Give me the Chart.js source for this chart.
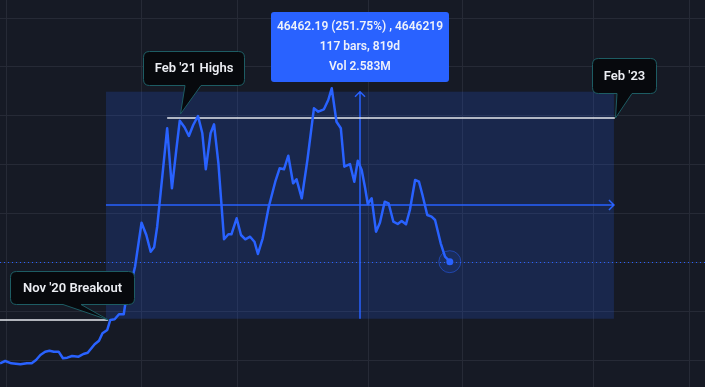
<!DOCTYPE html>
<html lang="en">
<head>
  <meta charset="utf-8" />
  <title>Weekly range</title>
  <script src="https://cdn.jsdelivr.net/npm/chart.js@4.4.0/dist/chart.umd.min.js"></script>
  <style>
    * { margin: 0; padding: 0; box-sizing: border-box; }
    body { background: #161a25; width: 705px; height: 387px; overflow: hidden; }
    .wrapper { position: relative; width: 705px; height: 387px; }
  </style>
</head>
<body>
  <div class="wrapper"><canvas id="chart"></canvas></div>
  <script>
    // week index of each close
    const weeks = [0, 1.2, 2.6, 4.7, 6.2, 7.3, 8.3, 9.3, 10.4, 11.4, 12.4, 13.5, 14.5, 15.5, 16.6, 18.1, 19.2, 20.2,
      21.8, 22.8, 23.6, 24.7, 25.4, 26.4, 27.4, 28.5, 29.0, 30.0, 31.1, 32.6, 33.7, 34.7, 35.5, 36.2, 37.3, 38.5,
      39.6, 40.6, 41.4, 42.5, 43.5, 44.5, 45.6, 46.6, 47.4, 48.5, 49.3, 50.3, 51.6, 52.6, 53.3, 54.5, 55.5, 56.5,
      57.6, 58.6, 59.4, 60.5, 61.9, 63.4, 64.4, 65.4, 66.4, 67.5, 68.3, 69.5, 70.8, 72.3, 73.3, 74.6, 75.6, 76.4,
      77.5, 78.5, 79.3, 80.6, 81.6, 82.4, 83.3, 84.1, 84.7, 85.6, 86.6, 87.5, 88.6, 89.5, 90.6, 91.6, 92.5, 93.5,
      94.4, 95.6, 96.5, 97.3, 98.4, 99.4, 100.2, 101.5, 102.5, 103.6];
    const closes = [9330, 9800, 9330, 9130, 9330, 9330, 10010, 11030, 11710, 11910, 11710, 11710, 10360, 10480, 10830, 10680, 11240, 11500,
      13220, 13960, 15470, 16150, 18200, 18340, 19360, 19360, 22290, 25010, 29100, 38110, 35590, 32170, 33080, 37290, 46850, 57430,
      45150, 52990, 58990, 57640, 55860, 58110, 59950, 56410, 49040, 56410, 58250, 50270, 34710, 35740, 35740, 39010, 35590, 34710,
      35240, 34220, 31700, 34920, 41380, 46500, 49240, 49040, 51820, 46170, 46990, 43100, 50940, 61520, 60830, 61320, 63220, 65620,
      58780, 57430, 49570, 50120, 46500, 50800, 48900, 45150, 41940, 43100, 36270, 38110, 42410, 42080, 38310, 37840, 38460, 37780,
      40710, 46850, 46500, 43780, 39690, 39340, 38660, 33890, 31150, 30130];
    const xGrid = [1.6, 32.7, 54.6, 84.8, 106.6, 136.8, 158.9];
    const yGrid = [10000, 20000, 30000, 40000, 50000, 60000, 70000, 80000];

    // measured range (date & price range tool)
    const rangeStart = 24.4, rangeEnd = 141.4;
    const rangeLow = 18455.7, rangeHigh = 64917.89;
    const measureLines = ["46462.19 (251.75%) , 4646219", "117 bars, 819d", "Vol 2.583M"];

    // horizontal levels and callouts
    const levels = [
      { from: 0, to: 24.9, price: 18200 },
      { from: 38.5, to: 141.6, price: 59520 },
    ];
    const callouts = [
      { text: "Nov '20 Breakout", x: 24.9, y: 18200, box: [-98, -49, 124, 33], tail: [-45, -27] },
      { text: "Feb '21 Highs", x: 41.5, y: 60360, box: [-37, -63, 101, 34], tail: [5, 21] },
      { text: "Feb '23", x: 141.6, y: 59520, box: [-23, -60, 64, 35], tail: [2, 17] },
    ];

    const BLUE = "#2962ff";
    const lastClose = closes[closes.length - 1];
    const lastWeek = weeks[weeks.length - 1];

    function calloutPath(ctx, l, t, w, h, r, tipX, tipY, b1, b2) {
      ctx.beginPath();
      ctx.moveTo(l + r, t);
      ctx.lineTo(l + w - r, t);
      ctx.quadraticCurveTo(l + w, t, l + w, t + r);
      ctx.lineTo(l + w, t + h - r);
      ctx.quadraticCurveTo(l + w, t + h, l + w - r, t + h);
      ctx.lineTo(b2, t + h);
      ctx.lineTo(tipX, tipY);
      ctx.lineTo(b1, t + h);
      ctx.lineTo(l + r, t + h);
      ctx.quadraticCurveTo(l, t + h, l, t + h - r);
      ctx.lineTo(l, t + r);
      ctx.quadraticCurveTo(l, t, l + r, t);
      ctx.closePath();
    }

    const overlay = {
      id: "overlay",
      beforeDatasetsDraw(chart) {
        const { ctx, chartArea: a, scales: { x, y } } = chart;
        ctx.save();
        const x0 = x.getPixelForValue(rangeStart), x1 = x.getPixelForValue(rangeEnd);
        const yT = y.getPixelForValue(rangeHigh), yB = y.getPixelForValue(rangeLow);
        ctx.fillStyle = "rgba(41, 98, 255, 0.18)";
        ctx.fillRect(x0, yT, x1 - x0, yB - yT);

        const ym = Math.round((yT + yB) / 2), xm = Math.round((x0 + x1) / 2);
        ctx.strokeStyle = BLUE;
        ctx.lineWidth = 1.5;
        ctx.beginPath();
        ctx.moveTo(x0, ym); ctx.lineTo(x1, ym);
        ctx.moveTo(x1 - 5, ym - 5); ctx.lineTo(x1, ym); ctx.lineTo(x1 - 5, ym + 5);
        ctx.moveTo(xm, yB); ctx.lineTo(xm, yT);
        ctx.moveTo(xm - 5, yT + 5); ctx.lineTo(xm, yT); ctx.lineTo(xm + 5, yT + 5);
        ctx.stroke();

        // last price dotted line
        const yl = Math.round(y.getPixelForValue(lastClose)) + 0.5;
        ctx.lineWidth = 1;
        ctx.setLineDash([1, 3]);
        ctx.beginPath(); ctx.moveTo(a.left, yl); ctx.lineTo(a.right, yl); ctx.stroke();
        ctx.setLineDash([]);

        // white levels
        ctx.strokeStyle = "#e6e8ee";
        ctx.lineWidth = 1.5;
        levels.forEach(l => {
          const py = Math.round(y.getPixelForValue(l.price));
          ctx.beginPath();
          ctx.moveTo(x.getPixelForValue(l.from), py);
          ctx.lineTo(x.getPixelForValue(l.to), py);
          ctx.stroke();
        });
        ctx.restore();
      },
      afterDatasetsDraw(chart) {
        const { ctx, scales: { x, y } } = chart;
        ctx.save();
        // end marker
        const ex = x.getPixelForValue(lastWeek), ey = y.getPixelForValue(lastClose);
        ctx.beginPath(); ctx.arc(ex, ey, 11, 0, Math.PI * 2);
        ctx.fillStyle = "rgba(41, 98, 255, 0.1)"; ctx.fill();
        ctx.strokeStyle = "rgba(41, 98, 255, 0.5)"; ctx.lineWidth = 1; ctx.stroke();
        ctx.beginPath(); ctx.arc(ex, ey, 3.5, 0, Math.PI * 2);
        ctx.fillStyle = BLUE; ctx.fill();

        // callouts
        ctx.font = "600 13px Roboto, sans-serif";
        ctx.textAlign = "center";
        ctx.textBaseline = "middle";
        callouts.forEach(c => {
          const tx = Math.round(x.getPixelForValue(c.x)), ty = Math.round(y.getPixelForValue(c.y));
          const [dl, dt, w, h] = c.box;
          const l = tx + dl + 0.5, t = ty + dt + 0.5;
          calloutPath(ctx, l, t, w, h, 6, tx + 0.5, ty, tx + c.tail[0], tx + c.tail[1]);
          ctx.fillStyle = "#07090d"; ctx.fill();
          ctx.strokeStyle = "#1d5c63"; ctx.lineWidth = 1; ctx.stroke();
          ctx.fillStyle = "#eceef3";
          ctx.fillText(c.text, l + w / 2, t + h / 2 + 0.5);
        });

        // measure label
        const xm = (x.getPixelForValue(rangeStart) + x.getPixelForValue(rangeEnd)) / 2;
        const yT = y.getPixelForValue(rangeHigh);
        const bw = 178, bh = 70;
        const bl = Math.round(xm - bw / 2), bt = Math.round(yT - 80);
        ctx.beginPath();
        ctx.roundRect(bl, bt, bw, bh, 3);
        ctx.fillStyle = BLUE; ctx.fill();
        ctx.font = "600 12px Roboto, sans-serif";
        ctx.fillStyle = "#eef1fa";
        measureLines.forEach((s, i) => ctx.fillText(s, xm, bt + 15 + i * 20));
        ctx.restore();
      },
    };

    new Chart(document.getElementById("chart"), {
      type: "line",
      data: {
        datasets: [{
          data: weeks.map((w, i) => ({ x: w, y: closes[i] })),
          borderColor: BLUE,
          borderWidth: 2.5,
          borderJoinStyle: "round",
          pointRadius: 0,
          tension: 0,
        }],
      },
      options: {
        responsive: true,
        maintainAspectRatio: false,
        animation: false,
        events: [],
        layout: { padding: 0 },
        plugins: { legend: { display: false }, tooltip: { enabled: false } },
        scales: {
          x: {
            type: "linear", min: 0, max: 162.37,
            afterBuildTicks: s => { s.ticks = xGrid.map(v => ({ value: v })); },
            ticks: { display: false },
            grid: { color: "#262a36", drawTicks: false },
            border: { display: false },
          },
          y: {
            type: "linear", min: 4480, max: 83690,
            afterBuildTicks: s => { s.ticks = yGrid.map(v => ({ value: v })); },
            ticks: { display: false },
            grid: { color: "#262a36", drawTicks: false },
            border: { display: false },
          },
        },
      },
      plugins: [overlay],
    });
  </script>
</body>
</html>
